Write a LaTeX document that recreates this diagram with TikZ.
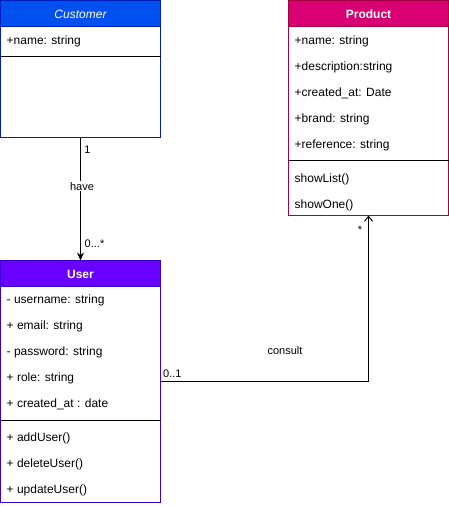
\documentclass[tikz,border=0pt]{standalone}
\usepackage{fontspec}
\setmainfont{Liberation Sans}
\usetikzlibrary{arrows.meta}

\definecolor{custfill}{HTML}{0050EF}
\definecolor{custline}{HTML}{001DBC}
\definecolor{prodfill}{HTML}{D80073}
\definecolor{prodline}{HTML}{A50040}
\definecolor{userfill}{HTML}{6A00FF}
\definecolor{userline}{HTML}{3700CC}

\begin{document}
\begin{tikzpicture}[x=1pt,y=-1pt,
  classbox/.style={draw,line width=1pt,rectangle,anchor=north west,minimum width=160pt,inner sep=0pt,outer sep=0pt},
  member/.style={anchor=base west,inner sep=0pt,font=\fontsize{12}{14}\selectfont},
  title/.style={anchor=base,inner sep=0pt,text=white,font=\fontsize{12}{14}\selectfont},
  elabel/.style={anchor=base,inner sep=1pt,font=\fontsize{11}{13}\selectfont}]
\useasboundingbox[fill=white] (0,0) rectangle (449,506);

% Customer class
\node[classbox,draw=custline,minimum height=137pt] (customer) at (0.5,0.5) {};
\filldraw[fill=custfill,draw=custline,line width=1pt] (customer.north west) rectangle ([yshift=-26pt]customer.north east);
\node[title,font=\fontsize{12}{14}\selectfont\itshape] (custtitle) at (80.5,18) {Customer};
\node[member] (custattr) at (6.5,44) {+name: string};
\draw[line width=1pt] ([yshift=-56pt]customer.north west) -- ([yshift=-56pt]customer.north east);

% Product class
\node[classbox,draw=prodline,minimum height=215pt] (product) at (288.5,0.5) {};
\filldraw[fill=prodfill,draw=prodline,line width=1pt] (product.north west) rectangle ([yshift=-26pt]product.north east);
\node[title,font=\fontsize{12}{14}\selectfont\bfseries] (prodtitle) at (368.5,18) {Product};
\foreach \txt [count=\i from 0] in {+name: string,+description:string,+created\_at: Date,+brand: string,+reference: string}
  \node[member] (prodattr\i) at (294.5,{44+26*\i}) {\txt};
\draw[line width=1pt] ([yshift=-160pt]product.north west) -- ([yshift=-160pt]product.north east);
\foreach \txt [count=\i from 0] in {showList(),showOne()}
  \node[member] (prodop\i) at (294.5,{182+26*\i}) {\txt};

% User class
\node[classbox,draw=userline,minimum height=241.5pt] (user) at (0.5,260.5) {};
\filldraw[fill=userfill,draw=userline,line width=1pt] (user.north west) rectangle ([yshift=-26pt]user.north east);
\node[title,font=\fontsize{12}{14}\selectfont\bfseries] (usertitle) at (80.5,278) {User};
\foreach \txt [count=\i from 0] in {- username: string,+ email: string,- password: string,+ role: string,+ created\_at : date}
  \node[member] (userattr\i) at (6.5,{303+26*\i}) {\txt};
\draw[line width=1pt] ([yshift=-160pt]user.north west) -- ([yshift=-160pt]user.north east);
\foreach \txt [count=\i from 0] in {+ addUser(),+ deleteUser(),+ updateUser()}
  \node[member] (userop\i) at (6.5,{441+26*\i}) {\txt};

% Associations
\draw[line width=1pt,-{Stealth[length=8pt,width=7pt]}] (customer.south) -- (user.north);
\draw[line width=1pt,-{Straight Barb[length=5pt,width=8pt]}] (user.east) -| (product.south);

% Multiplicities and roles
\node[elabel] (custmult) at (87.5,153) {1};
\node[elabel,fill=white] (have) at (82,190) {have};
\node[elabel] (usermult) at (94.5,247) {0...*};
\node[elabel,anchor=base west] (consultfrom) at (162,377) {0..1};
\node[elabel] (consultto) at (360,233) {*};
\node[elabel] (consult) at (285,354) {consult};
\end{tikzpicture}
\end{document}
